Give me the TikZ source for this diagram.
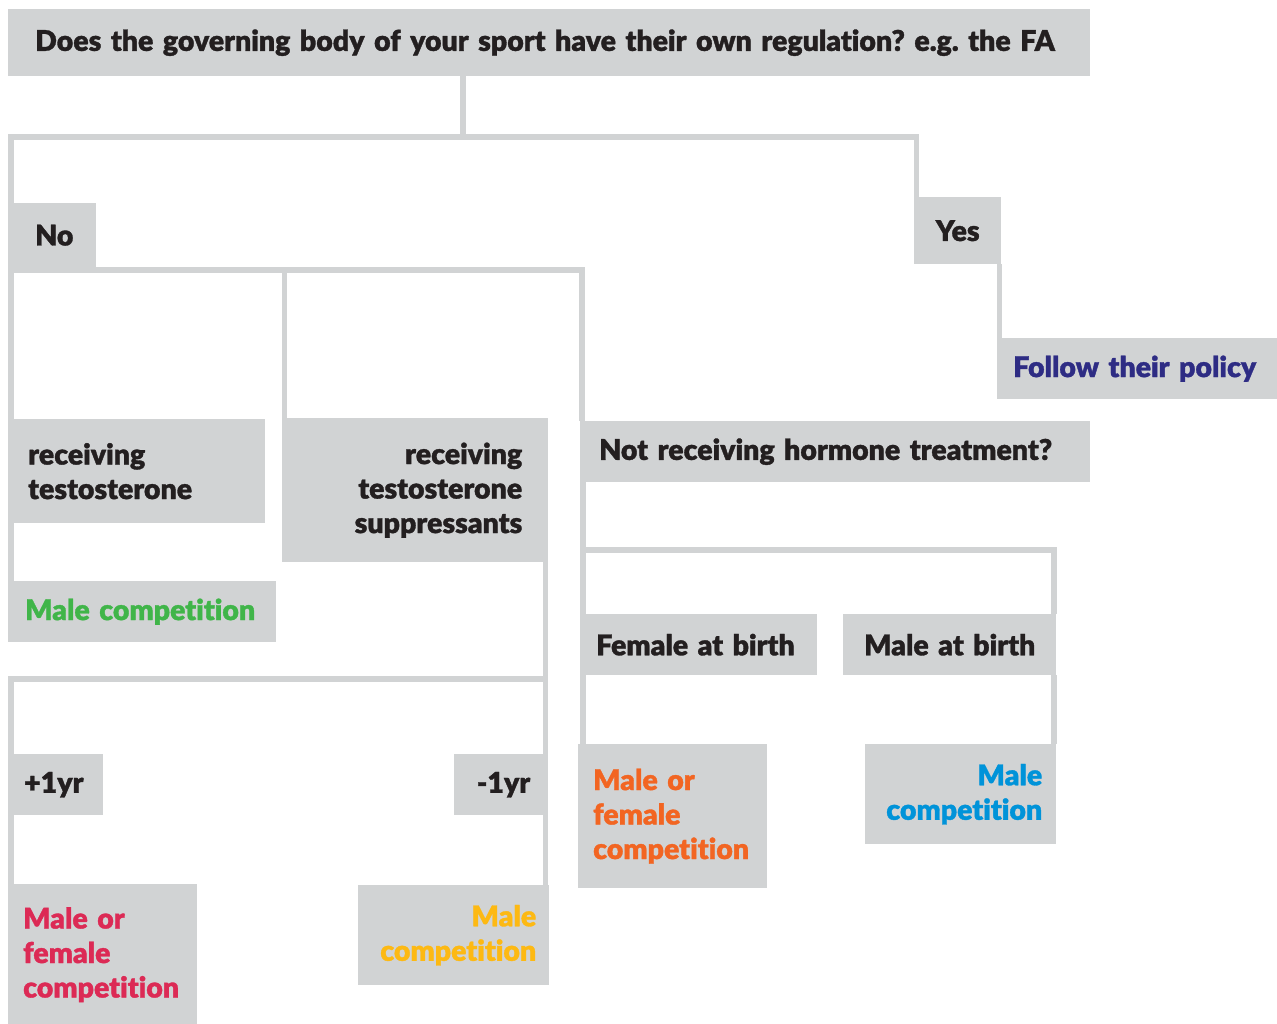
\documentclass[tikz,border=0pt]{standalone}
\usepackage{fontspec}
\setmainfont{Lato}[BoldFont = {Lato Black}, BoldFeatures = {FakeBold = 1.2}, Ligatures = {NoCommon}]
\usepackage{tikz}
\frenchspacing

\definecolor{boxgray}{HTML}{D1D3D4}
\definecolor{ink}{HTML}{231F20}
\definecolor{policypurple}{HTML}{2E2C84}
\definecolor{malegreen}{HTML}{40B549}
\definecolor{mixcrimson}{HTML}{DC2A55}
\definecolor{maleyellow}{HTML}{FDB913}
\definecolor{mixorange}{HTML}{F26522}
\definecolor{maleblue}{HTML}{0093D9}

\tikzset{
  box/.style = {fill = boxgray, anchor = north west, inner ysep = 0pt, text = ink,
    font = \fontsize{28.5}{34.5}\selectfont\bfseries},
  link/.style = {draw = boxgray, line width = 5.5pt, line join = miter}
}

\begin{document}
\begin{tikzpicture}[x = 1pt, y = -1pt]
\useasboundingbox (0, 0) rectangle (1277, 1023);

\node (q) at (8, 9) [box, minimum height = 67, inner xsep = 27, text width = 1028, align = left]{\mbox{Does the governing body of your sport have their own regulation? e.g. the FA}};

\node (no) at (8, 203) [box, minimum height = 64, inner xsep = 27, text width = 34, align = left]{No};
\node (yes) at (914, 197) [box, minimum height = 67, inner xsep = 20, text width = 47, align = center]{Yes};
\node (follow) at (997, 338) [box, minimum height = 61, inner xsep = 16, text width = 248, align = left, text = policypurple]{Follow their policy};

\node (rtest) at (8, 419) [box, minimum height = 104, inner xsep = 20, text width = 217, align = left]{receiving\\testosterone};
\node (rsupp) at (282, 418) [box, minimum height = 144, inner xsep = 26, text width = 214, align = right]{receiving\\testosterone\\suppressants};
\node (notrx) at (580, 421) [box, minimum height = 61, inner xsep = 19, text width = 472, align = left]{Not receiving hormone treatment?};

\node (greenmale) at (8, 581) [box, minimum height = 61, inner xsep = 17, text width = 234, align = left, text = malegreen]{Male competition};

\node (plus) at (8, 754) [box, minimum height = 61, inner xsep = 16, text width = 63, align = left]{+1yr};
\node (minus) at (454, 754) [box, minimum height = 61, inner xsep = 18, text width = 58, align = right]{\mbox{-1yr}};

\node (crimsonmix) at (8, 884) [box, minimum height = 141, inner xsep = 15, text width = 159, align = left, text = mixcrimson]{Male or\\female\\competition};
\node (yellowmale) at (358, 885) [box, minimum height = 100, inner xsep = 13, text width = 165, align = right, text = maleyellow]{Male\\competition};

\node (female) at (580, 614) [box, minimum height = 61, inner xsep = 16, text width = 205, align = left]{Female at birth};
\node (maleb) at (843, 614) [box, minimum height = 61, inner xsep = 20, text width = 173, align = center]{Male at birth};

\node (orangemix) at (578, 744) [box, minimum height = 144, inner xsep = 15, text width = 159, align = left, text = mixorange]{Male or\\female\\competition};
\node (bluemale) at (865, 744) [box, minimum height = 100, inner xsep = 14, text width = 163, align = right, text = maleblue]{Male\\competition};

\coordinate (splitq) at (463, 137);
\coordinate (splitno) at (11, 270);
\coordinate (splitsupp) at (545, 679);
\coordinate (splitnot) at (583, 550);

\draw[link] (q.south -| splitq) -- (splitq);
\draw[link] ([xshift = 3pt]no.north west) |- (splitq) -| ([xshift = 2.5pt]yes.north west);
\draw[link] ([xshift = -2pt]yes.south east) -- ([xshift = -2pt]yes.south east |- follow.north);

\draw[link] ([xshift = 3pt]no.south west) -- ([xshift = 3pt]rtest.north west);
\draw[link] (splitno) -| ([xshift = 2pt]notrx.north west);
\draw[link] ([xshift = 2.5pt]rsupp.north west) -- ([xshift = 2.5pt]rsupp.north west |- splitno);
\draw[link] ([xshift = 3pt]rtest.south west) -- ([xshift = 3pt]rtest.south west |- greenmale.north);

\draw[link] ([xshift = -3pt]rsupp.south east) -- ([xshift = -3pt]minus.north east);
\draw[link] ([xshift = 3pt]plus.north west) |- (splitsupp);
\draw[link] ([xshift = 3pt]plus.south west) -- ([xshift = 3pt]plus.south west |- crimsonmix.north);
\draw[link] ([xshift = -3pt]minus.south east) -- ([xshift = -3pt]minus.south east |- yellowmale.north);

\draw[link] ([xshift = 3pt]notrx.south west) -- ([xshift = 3pt]female.north west);
\draw[link] (splitnot) -| ([xshift = -2.5pt]maleb.north east);
\draw[link] ([xshift = 3pt]female.south west) -- ([xshift = 3pt]female.south west |- orangemix.north);
\draw[link] ([xshift = -2.5pt]maleb.south east) -- ([xshift = -2.5pt]maleb.south east |- bluemale.north);

\end{tikzpicture}
\end{document}
